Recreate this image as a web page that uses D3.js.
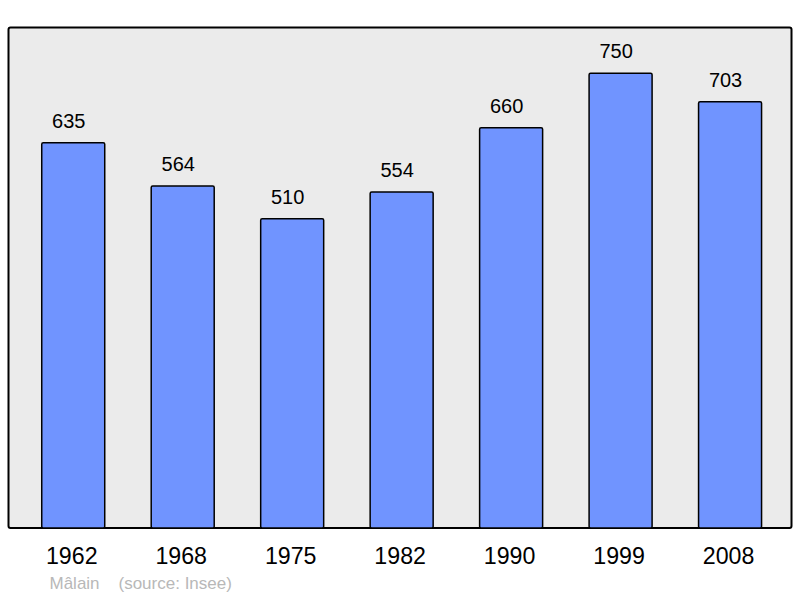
<!DOCTYPE html>
<html><head><meta charset="utf-8">
<script src="https://cdn.jsdelivr.net/npm/d3@7"></script>
<style>html,body{margin:0;padding:0;background:#fff;}svg{display:block;}</style>
</head><body>
<svg id="chart" width="800" height="598"></svg>
<script>
const years = ["1962","1968","1975","1982","1990","1999","2008"];
const population = [635,564,510,554,660,750,703];
const townName = "Mâlain";
const sourceText = "(source: Insee)";

const svg = d3.select("#chart");
const plot = {left: 8.5, top: 27.5, right: 791.5, bottom: 528};
const FONT = "Liberation Sans, Arial, sans-serif";

svg.append("rect")
  .attr("x", plot.left).attr("y", plot.top)
  .attr("width", plot.right - plot.left).attr("height", plot.bottom - plot.top)
  .attr("rx", 2).attr("ry", 2)
  .attr("fill", "#ebebeb").attr("stroke", "#000").attr("stroke-width", 2);

const x = d3.scaleBand().domain(years).range([18.5, 784.8])
  .paddingInner(0.4245).paddingOuter(0.21225);
const y = d3.scaleLinear().domain([0, 826]).range([plot.bottom, plot.bottom - 826*0.6065]);

const data = years.map((yr, i) => ({yr, v: population[i]}));

svg.selectAll("rect.bar").data(data).enter().append("rect")
  .attr("class", "bar")
  .attr("x", d => x(d.yr)).attr("y", d => y(d.v))
  .attr("width", x.bandwidth()).attr("height", d => y(0) - y(d.v))
  .attr("rx", 1.5).attr("ry", 1.5)
  .attr("fill", "#7094ff").attr("stroke", "#000").attr("stroke-width", 1.5);

svg.selectAll("text.val").data(data).enter().append("text")
  .attr("class", "val")
  .attr("x", d => x(d.yr) + x.bandwidth()/2 - 4.5).attr("y", d => y(d.v) - 15)
  .attr("text-anchor", "middle")
  .attr("font-family", FONT).attr("font-size", 20)
  .attr("fill", "#000")
  .text(d => d.v);

const xAxis = d3.axisBottom(x).tickSize(0).tickPadding(0);
const gx = svg.append("g").attr("transform", `translate(0,${plot.bottom})`).call(xAxis);
gx.select(".domain").remove();
gx.selectAll("text")
  .attr("x", -1.5)
  .attr("y", 36.3).attr("dy", null)
  .attr("font-family", FONT).attr("font-size", 23.2)
  .attr("fill", "#000");

svg.append("text").attr("x", 49.5).attr("y", 588.5)
  .attr("font-family", FONT).attr("font-size", 17)
  .attr("fill", "#b8b8b8").text(townName);
svg.append("text").attr("x", 118.5).attr("y", 588.5)
  .attr("font-family", FONT).attr("font-size", 17)
  .attr("fill", "#b8b8b8").text(sourceText);
</script>
</body></html>
